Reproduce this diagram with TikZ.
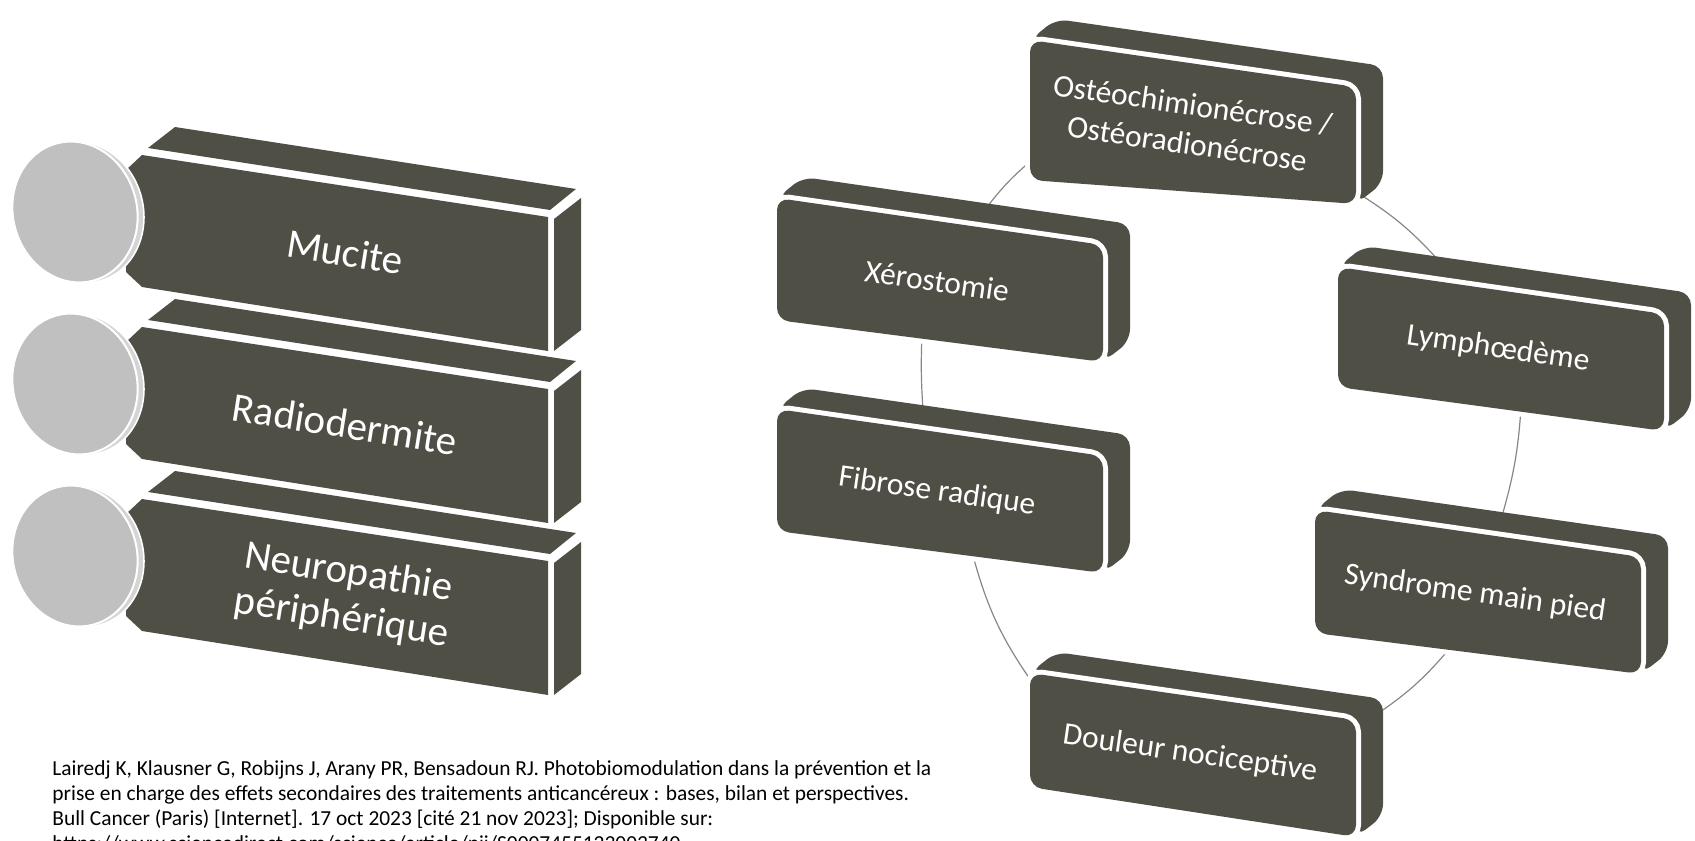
\documentclass[tikz,border=0pt]{standalone}
\usepackage{fontspec}
\setmainfont{Carlito}
\definecolor{slab}{RGB}{80,79,70}
\definecolor{discgray}{RGB}{192,192,192}
\definecolor{discrim}{RGB}{212,212,212}
\definecolor{ringgray}{RGB}{135,135,135}
\tikzset{
    lslab/.pic = {
    \fill[slab] (6,-7) -- (33,-28) -- (434,34) -- (408,55) -- cycle;
    \fill[slab] (412,64) -- (439,43) -- (439,175) -- (412,196) -- cycle;
    \fill[slab] (-16,15) -- (0,0) -- (406,62) -- (406,196) -- (0,132) -- (-16,117) -- cycle;
    },
    rslab/.pic = {
    \fill[slab, rounded corners=6pt] (0,0) -- (26,-21) -- (353,26) -- (353,143) -- (326,164) -- (326,47) -- cycle;
    \draw[white, line width=5pt, rounded corners=6pt] (0,0) -- (326,47) -- (326,164) -- (0,#1) -- cycle;
    \fill[slab, rounded corners=6pt] (0,0) -- (326,47) -- (326,164) -- (0,#1) -- cycle;
    },
    disc/.pic = {
    \draw[white, line width=0.8pt, fill=discrim, rotate=15] (6,2) ellipse [x radius=62, y radius=71];
    \draw[white, line width=1pt, fill=discgray, rotate=15] (0,0) ellipse [x radius=62, y radius=71];
    },
    lbl/.style = {text=white, align=center, inner sep=0pt, rotate=-9,
        font=\fontsize{20.5pt}{23pt}\selectfont},
    rlbl/.style = {text=white, align=center, inner sep=0pt, rotate=-8.3,
        font=\fontsize{15.75pt}{19.5pt}\selectfont},
    ring/.style = {draw=ringgray, line width=0.6pt},
    cite/.style = {align=left, inner sep=0pt, font=\fontsize{10.7pt}{12.6pt}\selectfont}
}
\begin{document}
\begin{tikzpicture}[x=0.5pt, y=-0.5pt, line join=round]
\useasboundingbox (0,0) rectangle (1695,840);
\clip (0,0) rectangle (1695,840);

% left column
\path (142,155) pic {lslab};
\path (142,327) pic {lslab};
\path (142,499) pic {lslab};
\path (75,212) pic {disc};
\path (75,384) pic {disc};
\path (75,556) pic {disc};
\node[lbl] (mucite) at (345,252) {Mucite};
\node[lbl] (radio) at (345,424) {Radiodermite};
\node[lbl] (neuro) at (345,596) {Neuropathie\\périphérique};

% cycle
\coordinate (xero-n) at (987,207);
\coordinate (osteo-w) at (1032,160);
\coordinate (osteo-e) at (1356,192);
\coordinate (lymph-n) at (1440,262);
\coordinate (lymph-s) at (1521,408);
\coordinate (synd-n) at (1502,516);
\coordinate (synd-s) at (1450,648);
\coordinate (doul-e) at (1374,716);
\coordinate (doul-w) at (1034,685);
\coordinate (fib-s) at (972,552);
\coordinate (fib-n) at (923,410);
\coordinate (xero-s) at (922,334);
\draw[ring] (xero-n) to[bend left=6] (osteo-w);
\draw[ring] (osteo-e) to[bend left=8] (lymph-n);
\draw[ring] (lymph-s) to[bend left=6] (synd-n);
\draw[ring] (synd-s) to[bend left=8] (doul-e);
\draw[ring] (doul-w) to[bend left=10] (fib-s);
\draw[ring] (fib-n) to[bend left=3] (xero-s);

\path (1030,40) pic {rslab=140};
\path (777,198) pic {rslab=122};
\path (777,409) pic {rslab=122};
\path (1338,267) pic {rslab=120};
\path (1315,510) pic {rslab=123};
\path (1030,673) pic {rslab=114};
\node[rlbl] (osteo) at (1190,124) {Ostéochimionécrose /\\Ostéoradionécrose};
\node[rlbl] (xero) at (937,281) {Xérostomie};
\node[rlbl] (fibrose) at (937,492) {Fibrose radique};
\node[rlbl] (lymph) at (1498,349) {Lymphœdème};
\node[rlbl] (syndrome) at (1475,594) {Syndrome main pied};
\node[rlbl] (douleur) at (1190,754) {Douleur nociceptive};

\node[cite, anchor=north west] (ref) at (52,760) {Lairedj K, Klausner G, Robijns J, Arany PR, Bensadoun RJ. Photobiomodulation dans la prévention et la\\
prise en charge des effets secondaires des traitements anticancéreux : bases, bilan et perspectives.\\
Bull Cancer (Paris) [Internet]. 17 oct 2023 [cité 21 nov 2023]; Disponible sur:\\
https://www.sciencedirect.com/science/article/pii/S0007455123003740};
\end{tikzpicture}
\end{document}
